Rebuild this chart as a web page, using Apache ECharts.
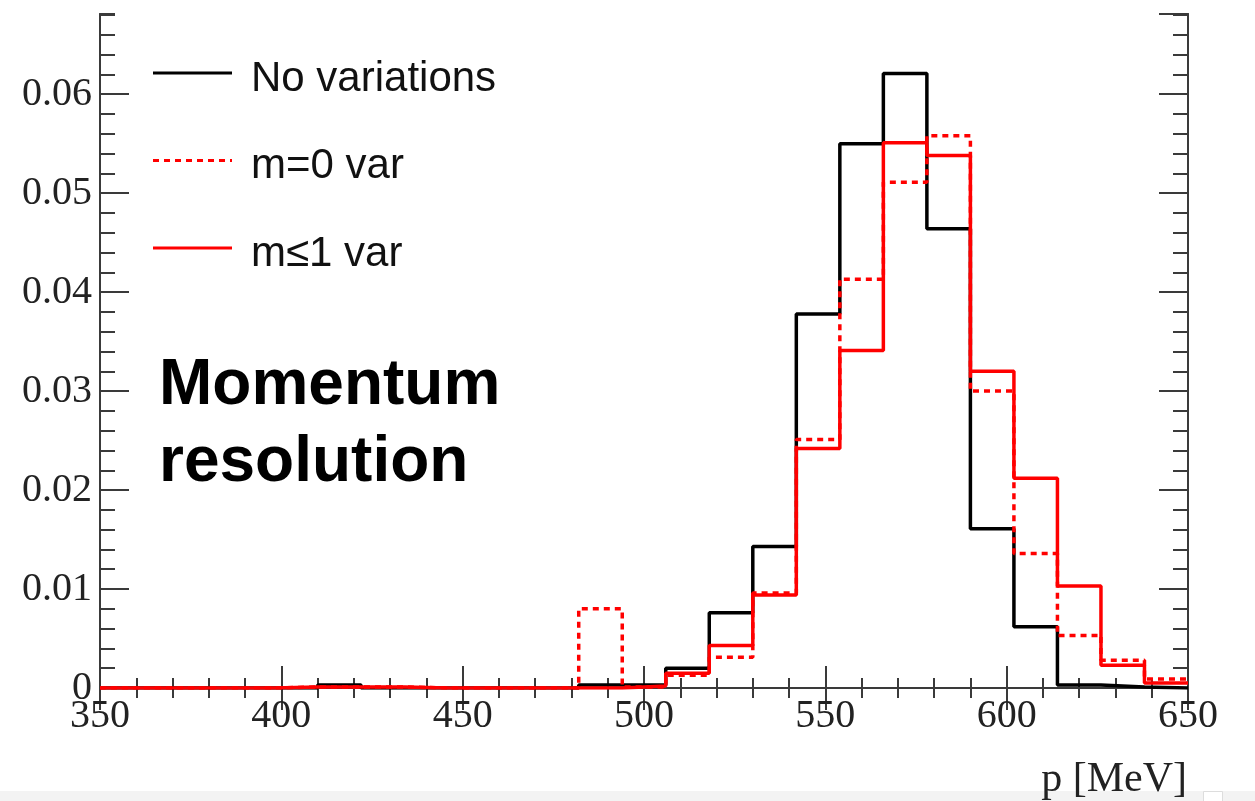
<!DOCTYPE html>
<html>
<head>
<meta charset="utf-8">
<script src="https://cdn.jsdelivr.net/npm/echarts@6/dist/echarts.min.js"></script>
<style>
html,body{margin:0;padding:0;background:#fff;}
#chart{width:1255px;height:801px;}
</style>
</head>
<body>
<div id="chart"></div>
<script>
// Bin low edges (12 MeV bins from 350 to 650)
var binLows = [350,362,374,386,398,410,422,434,446,458,470,482,494,506,518,530,542,554,566,578,590,602,614,626,638];
var xEnd = 650;
var noVariations = [0,0,0,0,0,0.0003,0,0,0,0,0,0.0003,0.0003,0.0020,0.0076,0.0143,0.0378,0.0550,0.0621,0.0464,0.0161,0.0062,0.0003,0.0001,0];
var m0var = [0,0,0,0,0.0001,0.0001,0.0001,0,0,0,0,0.0080,0.0001,0.0013,0.0031,0.0096,0.0251,0.0413,0.0511,0.0558,0.0300,0.0136,0.0053,0.0028,0.0009];
var m1var = [0,0,0,0,0.0001,0.0001,0.0001,0,0,0,0,0,0.0002,0.0015,0.0043,0.0094,0.0242,0.0341,0.0551,0.0538,0.0320,0.0212,0.0103,0.0023,0.0005];
var seriesNames = ['No variations','m=0 var','m\u22641 var'];
var xTitle = 'p [MeV]';
var noteText = 'Momentum\nresolution';

function stepData(vals){
  var d = binLows.map(function(x,i){return [x, vals[i]];});
  d.push([xEnd, vals[vals.length-1]]);
  return d;
}

// legend icons: solid and dashed line shapes
var ICON_W = 79, ICON_H = 3;
var solidIcon = 'path://M0,0H' + ICON_W + 'V' + ICON_H + 'H0Z';
var dashedIcon = (function(){
  var p = 'path://';
  for (var x = 0; x < ICON_W; x += 11) {
    var w = Math.min(6, ICON_W - x);
    p += 'M' + x + ',0H' + (x + w) + 'V' + ICON_H + 'H' + x + 'Z';
  }
  return p;
})();

var axisCol = '#3a3a3a';
var labelFont = {fontFamily:'Liberation Serif', fontSize:40, color:'#222'};

function yAxisCfg(pos, major, labels){
  return {
    type:'value', position:pos, min:0, max:0.0681,
    interval: major ? 0.01 : 0.002,
    axisLine:{show:true, lineStyle:{color:axisCol, width:2}},
    axisTick:{show:true, inside:true, length: major?29:15, lineStyle:{color:axisCol, width:2}},
    axisLabel: labels ? Object.assign({show:true, margin:8, showMaxLabel:false,
      formatter:function(v){ return v===0 ? '0' : v.toFixed(2); }}, labelFont) : {show:false},
    splitLine:{show:false}
  };
}
function xAxisCfg(pos, labels){
  return {
    type:'value', position:pos, min:350, max:650, interval:50,
    axisLine:{show:true, lineStyle:{color:axisCol, width:2}},
    axisTick:{show:true, inside:true, length:22, lineStyle:{color:axisCol, width:2}},
    minorTick:{show:true, splitNumber:5, length:10, lineStyle:{color:axisCol, width:2}},
    axisLabel: labels ? Object.assign({show:true, margin:8}, labelFont) : {show:false},
    splitLine:{show:false}
  };
}

var chart = echarts.init(document.getElementById('chart'), null, {renderer:'canvas'});
chart.setOption({
  animation:false,
  backgroundColor:'#fff',
  grid:{left:100, right:67, top:14, bottom:113, containLabel:false},
  xAxis:[xAxisCfg('bottom', true), xAxisCfg('top', false)],
  yAxis:[yAxisCfg('left', true, true), yAxisCfg('left', false, false), yAxisCfg('right', true, false), yAxisCfg('right', false, false)],
  legend:{
    orient:'vertical', left:153, top:49, padding:0,
    itemWidth:ICON_W, itemHeight:ICON_H, itemGap:36.5,
    formatter:function(name){ return '{s| }\n{t|' + name + '}'; },
    textStyle:{fontFamily:'Liberation Sans', fontSize:42, color:'#111', padding:[0,0,0,14],
      rich:{
        s:{fontSize:8, lineHeight:12},
        t:{fontFamily:'Liberation Sans', fontSize:42, color:'#111', lineHeight:40}
      }},
    data:[
      {name:seriesNames[0], icon:solidIcon},
      {name:seriesNames[1], icon:dashedIcon},
      {name:seriesNames[2], icon:solidIcon}
    ]
  },
  series:[
    {name:seriesNames[0], type:'line', step:'end', symbol:'none', data:stepData(noVariations),
     lineStyle:{color:'#000', width:3.5}, itemStyle:{color:'#000'}, z:3},
    {name:seriesNames[1], type:'line', step:'end', symbol:'none', data:stepData(m0var),
     lineStyle:{color:'#ff0000', width:3.5, type:[6,5]}, itemStyle:{color:'#ff0000'}, z:4},
    {name:seriesNames[2], type:'line', step:'end', symbol:'none', data:stepData(m1var),
     lineStyle:{color:'#ff0000', width:3.5}, itemStyle:{color:'#ff0000'}, z:5}
  ],
  graphic:[
    {type:'rect', left:0, top:791, shape:{width:1255, height:10}, style:{fill:'#f3f3f3'}, z:1},
    {type:'rect', left:1203, top:791, shape:{width:19, height:12}, style:{fill:'#fff', stroke:'#ddd', lineWidth:1}, z:2},
    {type:'text', left:159, top:348, z:10,
     style:{text:noteText, font:'bold 64px "Liberation Sans"', fill:'#000', lineHeight:77}},
    {type:'text', right:68, top:759, z:10,
     style:{text:xTitle, font:'42px "Liberation Serif"', fill:'#222'}}
  ]
});
</script>
</body>
</html>
